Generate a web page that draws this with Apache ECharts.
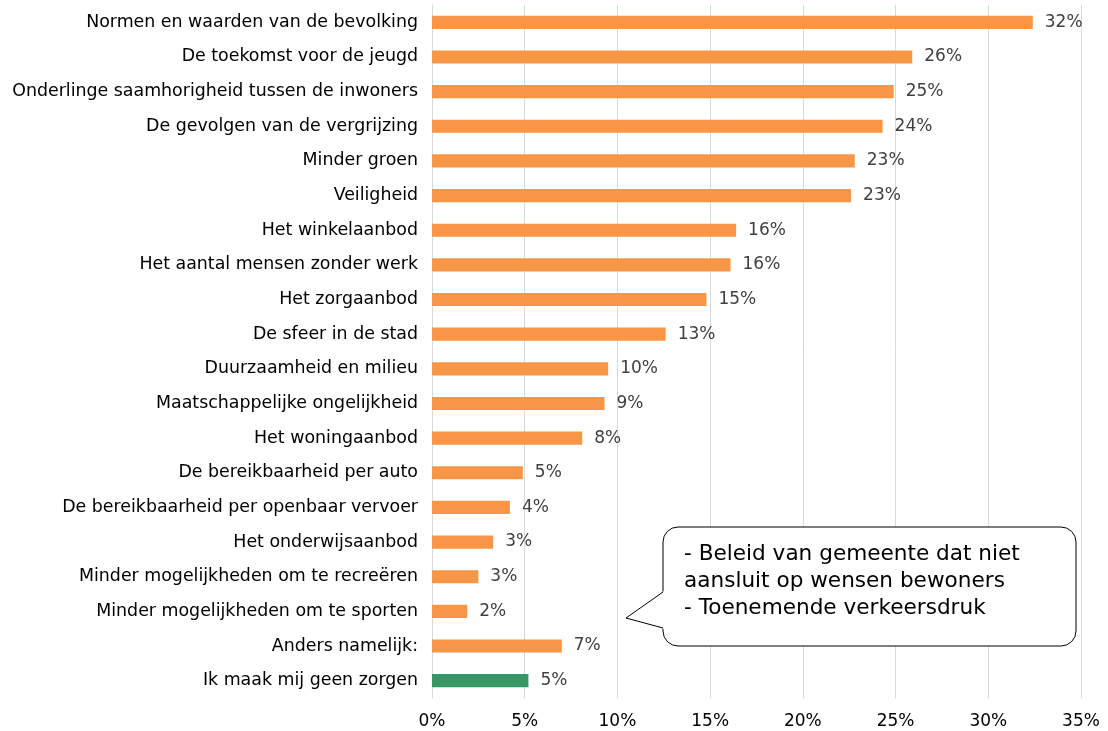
<!DOCTYPE html>
<html>
<head>
<meta charset="utf-8">
<script src="https://cdn.jsdelivr.net/npm/echarts@6/dist/echarts.min.js"></script>
<style>
  html, body { margin: 0; padding: 0; background: #fff; }
  #chart { width: 1108px; height: 731px; }
</style>
</head>
<body>
<div id="chart"></div>
<script>
// categories top to bottom
const categories = [
  'Normen en waarden van de bevolking',
  'De toekomst voor de jeugd',
  'Onderlinge saamhorigheid tussen de inwoners',
  'De gevolgen van de vergrijzing',
  'Minder groen',
  'Veiligheid',
  'Het winkelaanbod',
  'Het aantal mensen zonder werk',
  'Het zorgaanbod',
  'De sfeer in de stad',
  'Duurzaamheid en milieu',
  'Maatschappelijke ongelijkheid',
  'Het woningaanbod',
  'De bereikbaarheid per auto',
  'De bereikbaarheid per openbaar vervoer',
  'Het onderwijsaanbod',
  'Minder mogelijkheden om te recreëren',
  'Minder mogelijkheden om te sporten',
  'Anders namelijk:',
  'Ik maak mij geen zorgen'
];
const values = [32.4, 25.9, 24.9, 24.3, 22.8, 22.6, 16.4, 16.1, 14.8, 12.6,
  9.5, 9.3, 8.1, 4.9, 4.2, 3.3, 2.5, 1.9, 7.0, 5.2];
const xTicks = [0, 5, 10, 15, 20, 25, 30, 35];
const calloutLines = [
  '- Beleid van gemeente dat niet',
  'aansluit op wensen bewoners',
  '- Toenemende verkeersdruk'
];

const orange = '#f79646';
const green = '#339966';
const font = 'DejaVu Sans, Arial, sans-serif';

const myChart = echarts.init(document.getElementById('chart'));
const option = {
  animation: false,
  grid: { left: 432, right: 27, top: 5, bottom: 33, containLabel: false },
  xAxis: {
    type: 'value',
    min: xTicks[0],
    max: xTicks[xTicks.length - 1],
    interval: 5,
    axisLine: { show: false },
    axisTick: { show: false },
    splitLine: { lineStyle: { color: '#d9d9d9', width: 1 } },
    axisLabel: {
      formatter: v => v + '%',
      color: '#000',
      fontSize: 17,
      fontFamily: font,
      margin: 15
    }
  },
  yAxis: {
    type: 'category',
    inverse: true,
    data: categories,
    axisLine: { show: true, lineStyle: { color: '#d9d9d9' } },
    axisTick: { show: false },
    axisLabel: {
      color: '#000',
      fontSize: 17.4,
      fontFamily: font,
      margin: 14
    }
  },
  series: [{
    type: 'bar',
    data: values.map((v, i) => ({
      value: v,
      itemStyle: { color: i === values.length - 1 ? green : orange }
    })),
    barCategoryGap: '62%',
    label: {
      show: true,
      position: 'right',
      distance: 12,
      color: '#404040',
      fontSize: 17,
      fontFamily: font,
      formatter: p => Math.round(p.value) + '%'
    }
  }],
  graphic: [
    {
      type: 'rect',
      shape: { x: 663, y: 527, width: 413, height: 119, r: 15 },
      style: { fill: '#fff', stroke: '#000', lineWidth: 1 },
      z: 100
    },
    {
      type: 'polygon',
      shape: { points: [[664, 591], [626, 618], [664, 629]] },
      style: { fill: '#fff', stroke: null },
      z: 101
    },
    {
      type: 'polyline',
      shape: { points: [[663, 592], [626, 618], [663, 628]] },
      style: { fill: null, stroke: '#000', lineWidth: 1 },
      z: 102
    },
    {
      type: 'text',
      x: 684,
      y: 541,
      z: 103,
      style: {
        text: calloutLines.join('\n'),
        font: '21.6px ' + font,
        lineHeight: 27,
        fill: '#000'
      }
    }
  ]
};
myChart.setOption(option);
</script>
</body>
</html>
